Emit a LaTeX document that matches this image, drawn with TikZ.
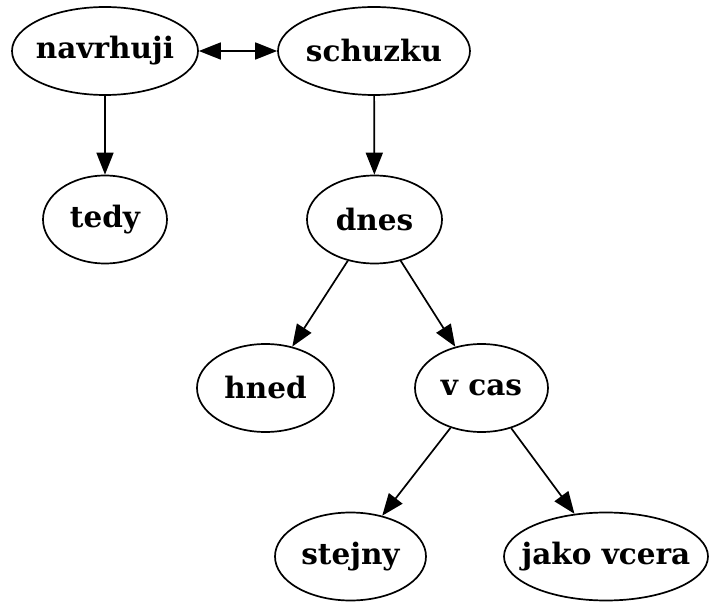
\documentclass[tikz,border=0pt]{standalone}
\usepackage{fontspec}
\setmainfont{DejaVu Serif}
\usetikzlibrary{arrows.meta,shapes.geometric}
\newcommand{\lbl}[1]{\makebox[0pt]{#1}}
\begin{document}
\begin{tikzpicture}[x=1pt,y=-1pt,
  nd/.style={ellipse,draw,line width=1.7pt,inner sep=0pt,minimum height=88pt,
    font=\fontsize{29.5}{34}\selectfont\bfseries},
  ed/.style={line width=1.7pt,-{Triangle[length=22pt,width=17pt]}}]
\useasboundingbox (0,0) rectangle (710,604);
\node[nd,minimum width=186pt] (navrhuji) at (105,51) {\lbl{navrhuji}};
\node[nd,minimum width=192pt] (schuzku) at (374,51) {\lbl{schuzku}};
\node[nd,minimum width=124pt] (tedy) at (105,219.5) {\lbl{tedy}};
\node[nd,minimum width=135pt] (dnes) at (374.5,219.5) {\lbl{dnes}};
\node[nd,minimum width=137pt] (hned) at (265.5,388) {\lbl{hned}};
\node[nd,minimum width=133pt] (vcas) at (481.5,388) {\lbl{v cas}};
\node[nd,minimum width=151pt] (stejny) at (350.5,556.5) {\lbl{stejny}};
\node[nd,minimum width=204pt] (jako) at (606,556.5) {\lbl{jako vcera}};
\draw[ed,{Triangle[length=22pt,width=17pt]}-{Triangle[length=22pt,width=17pt]}] (navrhuji) -- (schuzku);
\draw[ed] (navrhuji) -- (tedy);
\draw[ed] (schuzku) -- (dnes);
\draw[ed] (dnes) -- (hned);
\draw[ed] (dnes) -- (vcas);
\draw[ed] (vcas) -- (stejny);
\draw[ed] (vcas) -- (jako);
\end{tikzpicture}
\end{document}
